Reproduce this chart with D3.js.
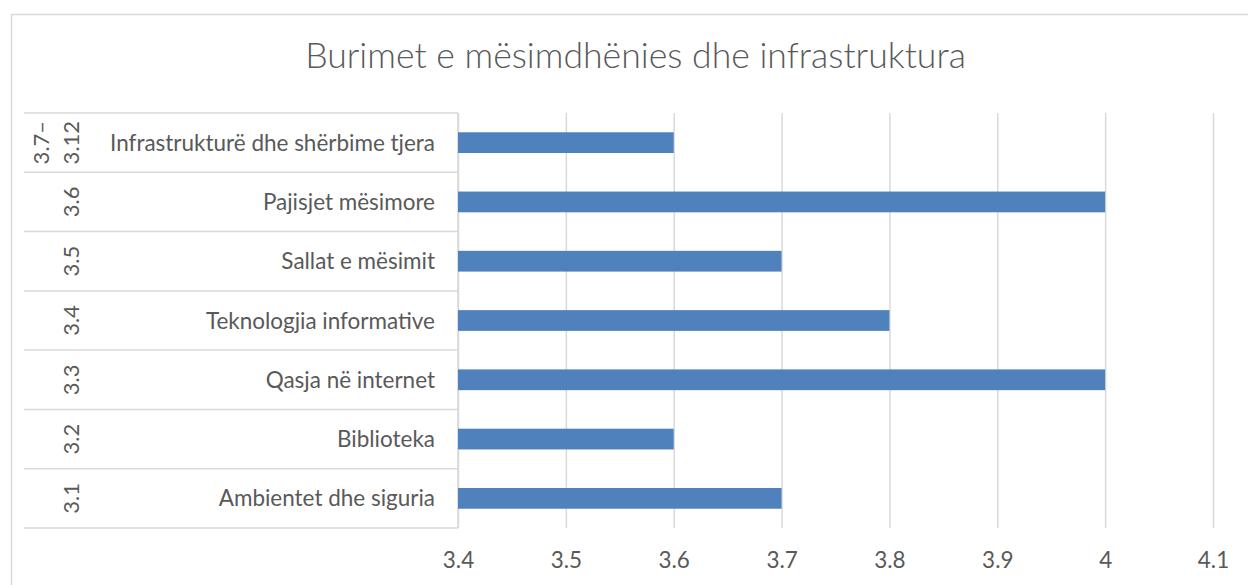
<!DOCTYPE html>
<html>
<head>
<meta charset="utf-8">
<script src="https://cdn.jsdelivr.net/npm/d3@7"></script>
<style>
  html, body { margin: 0; padding: 0; background: #fff; }
  svg { display: block; }
  text { font-family: Lato, "Open Sans", sans-serif; fill: #595959; }
</style>
</head>
<body>
<svg id="chart" width="1248" height="585"></svg>
<script>
const title = "Burimet e mësimdhënies dhe infrastruktura";
const groups = ["3.1", "3.2", "3.3", "3.4", "3.5", "3.6", "3.7–3.12"];
const groupLines = [["3.1"], ["3.2"], ["3.3"], ["3.4"], ["3.5"], ["3.6"], ["3.7–", "3.12"]];
const categories = [
  "Ambientet dhe siguria",
  "Biblioteka",
  "Qasja në internet",
  "Teknologjia informative",
  "Sallat e mësimit",
  "Pajisjet mësimore",
  "Infrastrukturë dhe shërbime tjera"
];
const values = [3.7, 3.6, 4.0, 3.8, 3.7, 4.0, 3.6];
const tickValues = [3.4, 3.5, 3.6, 3.7, 3.8, 3.9, 4.0, 4.1];

const svg = d3.select("#chart");

// outer chart border (left & top visible)
svg.append("rect")
  .attr("x", 11.5).attr("y", 14.5)
  .attr("width", 1300).attr("height", 700)
  .attr("fill", "none").attr("stroke", "#d9d9d9").attr("stroke-width", 1.5);

const plotLeft = 458, plotRight = 1213, plotTop = 113, plotBottom = 528;
const axisLeft = 24;

const x = d3.scaleLinear().domain([3.4, 4.1]).range([plotLeft, plotRight]);
const y = d3.scaleBand()
  .domain(categories.slice().reverse())
  .range([plotTop, plotBottom])
  .paddingInner(0.65).paddingOuter(0.325);

// gridlines
const grid = d3.axisBottom(x).tickValues(tickValues).tickSize(-(plotBottom - plotTop)).tickFormat("");
svg.append("g")
  .attr("transform", `translate(0,${plotBottom})`)
  .call(grid)
  .call(g => g.select(".domain").remove())
  .call(g => g.selectAll("line").attr("stroke", "#d9d9d9").attr("stroke-width", 1.5));

// tick labels
const tickAxis = d3.axisBottom(x).tickValues(tickValues).tickSize(0).tickPadding(0)
  .tickFormat(d => d3.format("")(+d.toFixed(1)));
const tickG = svg.append("g")
  .attr("transform", `translate(0,${plotBottom})`)
  .call(tickAxis);
tickG.select(".domain").remove();
tickG.selectAll("text")
  .attr("y", 40).attr("dy", null)
  .style("font-size", "22px")
  .style("font-family", "Lato, sans-serif")
  .attr("fill", "#595959");

// category axis separators
const bounds = categories.map(c => {
  const top = y(c) - (y.step() - y.bandwidth()) / 2;
  return [top, top + y.step()];
});
const allSeps = Array.from(new Set(bounds.flat().map(v => Math.round(v * 10) / 10)));
svg.append("g").selectAll("line").data(allSeps).join("line")
  .attr("x1", axisLeft).attr("x2", plotLeft)
  .attr("y1", d => d).attr("y2", d => d)
  .attr("stroke", "#d9d9d9").attr("stroke-width", 1.5);

// vertical axis line
svg.append("line")
  .attr("x1", plotLeft).attr("x2", plotLeft)
  .attr("y1", plotTop).attr("y2", plotBottom)
  .attr("stroke", "#d9d9d9").attr("stroke-width", 1.5);

// bars
svg.append("g").selectAll("rect").data(categories).join("rect")
  .attr("x", x(3.4))
  .attr("y", c => y(c))
  .attr("width", (c, i) => x(values[i]) - x(3.4))
  .attr("height", y.bandwidth())
  .attr("fill", "#4f81bd");

// category labels
const catG = svg.append("g");
catG.selectAll("text").data(categories).join("text")
  .attr("x", 435)
  .attr("y", c => y(c) + y.bandwidth() / 2)
  .attr("dy", "0.36em")
  .attr("text-anchor", "end")
  .style("font-size", "22px")
  .text(c => c);

// fit label size to reference width
(function fitCats() {
  const longest = catG.selectAll("text").filter(c => c === categories[6]).node();
  const w = longest.getComputedTextLength();
  const size = 22 * 325 / w;
  catG.selectAll("text").style("font-size", size + "px");
  tickG.selectAll("text").style("font-size", size + "px");
})();

// group labels (rotated)
const grpG = svg.append("g");
categories.forEach((c, i) => {
  const cy = y(c) + y.bandwidth() / 2;
  const lines = groupLines[i];
  const xs = lines.length === 1 ? [71] : [41, 71];
  lines.forEach((ln, j) => {
    grpG.append("text")
      .attr("transform", `translate(${xs[j] + 8},${cy}) rotate(-90)`)
      .attr("text-anchor", "middle")
      .style("font-size", "22px")
      .text(ln);
  });
});

// title
const t = svg.append("text")
  .attr("x", 635.5).attr("y", 68)
  .attr("text-anchor", "middle")
  .style("font-size", "32px")
  .style("font-weight", "300")
  .text(title);
const tw = t.node().getComputedTextLength();
t.style("font-size", (32 * 661 / tw) + "px");
</script>
</body>
</html>
